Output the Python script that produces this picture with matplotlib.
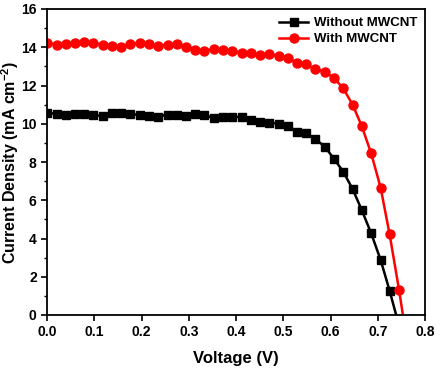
import matplotlib
matplotlib.use("Agg")
import matplotlib.pyplot as plt
from matplotlib.ticker import MultipleLocator

# J-V data
v_without = [0.000, 0.020, 0.039, 0.059, 0.078, 0.098, 0.118, 0.137, 0.157, 0.176,
             0.196, 0.216, 0.235, 0.255, 0.274, 0.294, 0.314, 0.333, 0.353, 0.372,
             0.392, 0.412, 0.431, 0.451, 0.470, 0.490, 0.510, 0.529, 0.549, 0.568,
             0.588, 0.608, 0.627, 0.647, 0.666, 0.686, 0.706, 0.725, 0.745]
j_without = [10.58, 10.51, 10.46, 10.51, 10.51, 10.46, 10.40, 10.58, 10.55, 10.51,
             10.46, 10.41, 10.37, 10.48, 10.46, 10.41, 10.51, 10.46, 10.29, 10.37,
             10.37, 10.34, 10.17, 10.11, 10.06, 10.00, 9.89, 9.59, 9.50, 9.19,
             8.80, 8.14, 7.49, 6.57, 5.49, 4.27, 2.88, 1.27, -0.56]

v_with = [0.000, 0.020, 0.039, 0.059, 0.078, 0.098, 0.118, 0.137, 0.157, 0.176,
          0.196, 0.216, 0.235, 0.255, 0.274, 0.294, 0.314, 0.333, 0.353, 0.372,
          0.392, 0.412, 0.431, 0.451, 0.470, 0.490, 0.510, 0.529, 0.549, 0.568,
          0.588, 0.608, 0.627, 0.647, 0.666, 0.686, 0.706, 0.725, 0.745, 0.765]
j_with = [14.24, 14.14, 14.17, 14.24, 14.29, 14.24, 14.12, 14.07, 14.03, 14.17,
          14.20, 14.17, 14.07, 14.14, 14.17, 14.03, 13.86, 13.82, 13.89, 13.86,
          13.82, 13.72, 13.68, 13.59, 13.65, 13.54, 13.45, 13.19, 13.10, 12.85,
          12.72, 12.37, 11.85, 10.98, 9.88, 8.45, 6.66, 4.22, 1.31, -1.9]

plt.rcParams['font.family'] = 'Liberation Sans'
plt.rcParams['font.weight'] = 'bold'
plt.rcParams['mathtext.fontset'] = 'custom'
plt.rcParams['mathtext.rm'] = 'Liberation Sans:bold'
plt.rcParams['mathtext.bf'] = 'Liberation Sans:bold'

fig = plt.figure(figsize=(4.4, 3.75), dpi=100)
ax = fig.add_axes([0.107, 0.16, 0.859, 0.816])

ax.plot(v_without, j_without, color='black', marker='s', markersize=5.5,
        linewidth=1.8, label='Without MWCNT')
ax.plot(v_with, j_with, color='red', marker='o', markersize=6.5,
        linewidth=1.8, label='With MWCNT')

ax.set_xlim(0, 0.8)
ax.set_ylim(0, 16)
ax.xaxis.set_major_locator(MultipleLocator(0.1))
ax.yaxis.set_major_locator(MultipleLocator(2))
ax.yaxis.set_minor_locator(MultipleLocator(1))
ax.tick_params(which='major', length=4, width=1.2, labelsize=10)
ax.tick_params(which='minor', length=2.5, width=1.0)
for s in ax.spines.values():
    s.set_linewidth(1.3)

ax.set_xlabel('Voltage (V)', fontsize=12, fontweight='bold', labelpad=8)
ax.set_ylabel('Current Density (mA cm$^{\\mathbf{-2}}$)', fontsize=11.5,
              fontweight='bold')
ax.yaxis.set_label_coords(-0.068, 0.5)

leg = ax.legend(loc='upper right', frameon=False, fontsize=9.5,
                handlelength=2.2, handletextpad=0.4, labelspacing=0.3,
                borderaxespad=0.2)

fig.savefig('out.png', dpi=100)
